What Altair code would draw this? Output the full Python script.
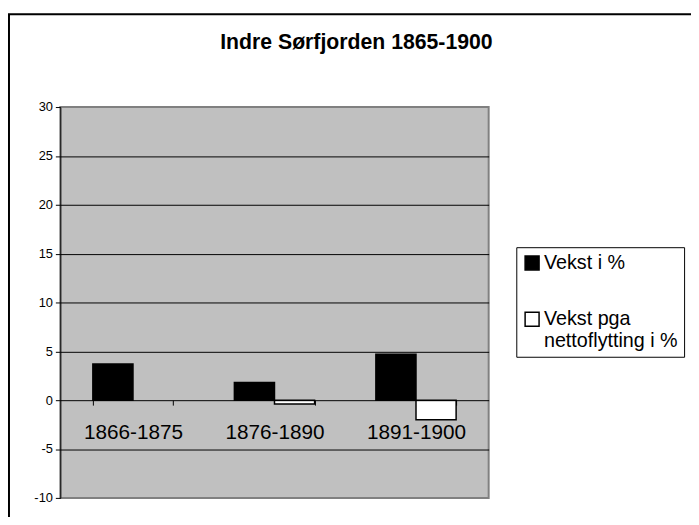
import altair as alt
import pandas as pd

title_text = "Indre Sørfjorden 1865-1900"
periods = ["1866-1875", "1876-1890", "1891-1900"]
series_names = ["Vekst i %", "Vekst pga nettoflytting i %"]
vekst = [3.7, 1.8, 4.7]
netto = [None, -0.4, -2.0]
y_ticks = [-10, -5, 0, 5, 10, 15, 20, 25, 30]

rows = []
for p, v, n in zip(periods, vekst, netto):
    rows.append({"periode": p, "serie": series_names[0], "verdi": v})
    rows.append({"periode": p, "serie": series_names[1], "verdi": n})
df = pd.DataFrame(rows)

FONT = "Liberation Sans"
W, H = 434, 396

bars = alt.Chart(df).mark_bar(stroke="black", strokeWidth=1.5).encode(
    x=alt.X("periode:N", sort=periods, title=None,
            scale=alt.Scale(paddingInner=0.433, paddingOuter=0.23),
            axis=alt.Axis(orient="bottom", offset=-99, labelAngle=0,
                          labelFontSize=21, labelFont=FONT, labelColor="black",
                          labelPadding=17, tickBand="extent", tickSize=5,
                          tickColor="black", domainColor="black", domainWidth=1,
                          grid=False, zindex=1)),
    xOffset=alt.XOffset("serie:N", sort=series_names,
                        scale=alt.Scale(paddingInner=0, paddingOuter=0)),
    y=alt.Y("verdi:Q", title=None,
            scale=alt.Scale(domain=[-10, 30], nice=False, zero=False),
            axis=alt.Axis(values=y_ticks, tickSize=5, tickColor="black",
                          labelFontSize=13, labelFont=FONT, labelColor="black",
                          labelExpr="'' + datum.value",
                          labelPadding=3, domainColor="black", domainWidth=1,
                          grid=True, gridColor="black", gridWidth=1,
                          gridOpacity=alt.ConditionalAxisNumber(
                              condition={"test": "datum.value == 30 || datum.value == -10 || datum.value == 0", "value": 0},
                              value=1))),
    fill=alt.Fill("serie:N", sort=series_names,
                  scale=alt.Scale(domain=series_names, range=["black", "white"]),
                  legend=alt.Legend(title=None, orient="none", legendX=462, legendY=142,
                                    fillColor="white", strokeColor="black", padding=6,
                                    symbolType="square", symbolSize=200,
                                    symbolStrokeColor="black", symbolStrokeWidth=1.5,
                                    labelFontSize=20, labelFont=FONT, labelColor="black",
                                    labelOffset=2, rowPadding=35, labelLimit=300,
                                    labelExpr="datum.label == 'Vekst pga nettoflytting i %' ? ['Vekst pga', 'nettoflytting i %'] : datum.label")),
)

border = alt.Chart(alt.Data(values=[{}])).mark_rect(
    fill=None, stroke="black", strokeWidth=2, clip=False
).encode(
    x=alt.value(-52), x2=alt.value(W + 300),
    y=alt.value(-94), y2=alt.value(H + 300),
)

title = alt.Chart(alt.Data(values=[{"t": title_text}])).mark_text(
    font=FONT, fontSize=21.5, fontWeight="bold", color="black",
    align="center", baseline="alphabetic", clip=False
).encode(
    text="t:N", x=alt.value(300), y=alt.value(-59),
)

chart = alt.layer(border, bars, title).properties(
    width=W, height=H,
    autosize=alt.AutoSizeParams(type="none"),
    padding={"left": 53, "top": 97, "right": 205, "bottom": 16},
).configure_view(
    fill="#C0C0C0", stroke="#808080", strokeWidth=2
)

chart.save("out.html", embed_options={"renderer": "svg", "actions": False})
